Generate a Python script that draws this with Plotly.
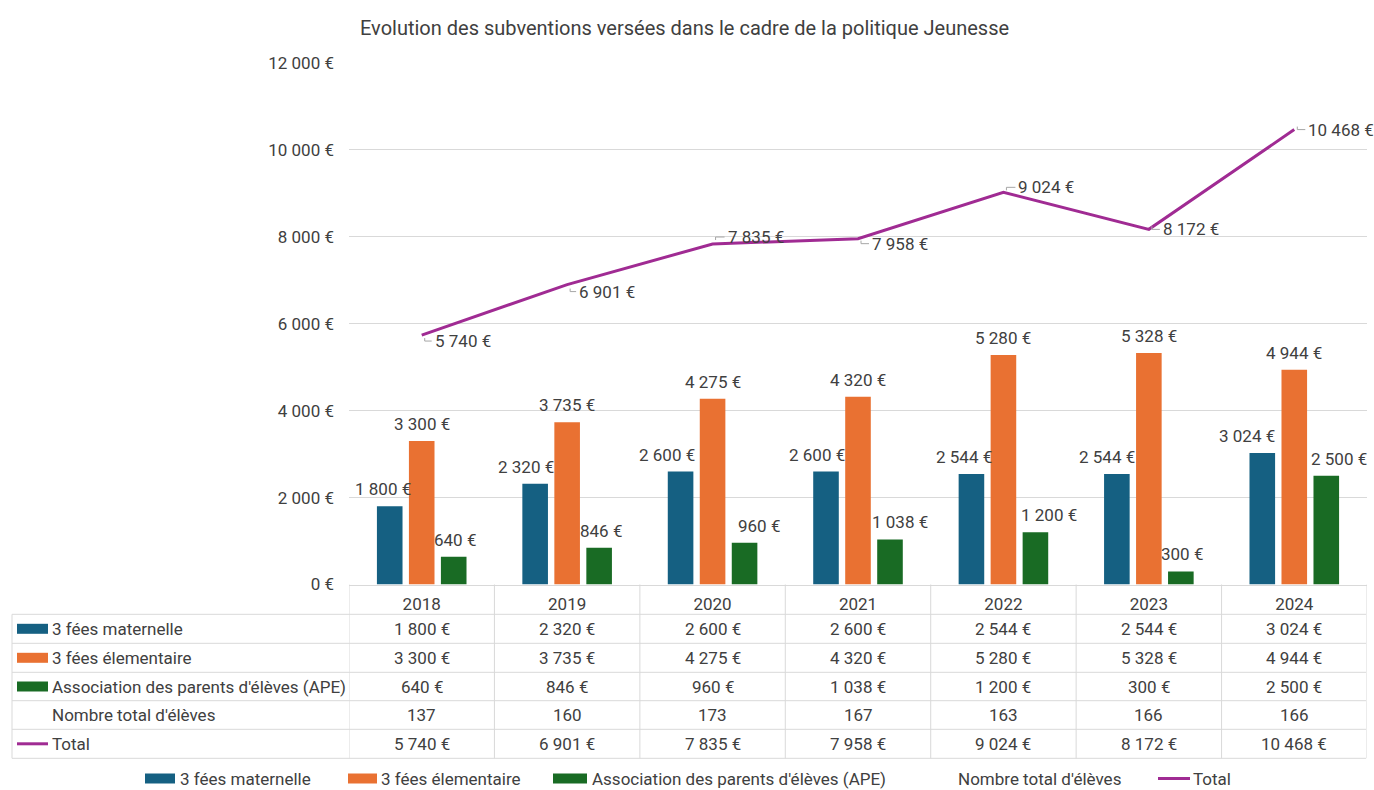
import plotly.graph_objects as go

# ---------------- data ----------------
years = ["2018", "2019", "2020", "2021", "2022", "2023", "2024"]
maternelle = [1800, 2320, 2600, 2600, 2544, 2544, 3024]
elementaire = [3300, 3735, 4275, 4320, 5280, 5328, 4944]
ape = [640, 846, 960, 1038, 1200, 300, 2500]
nb_eleves = [137, 160, 173, 167, 163, 166, 166]
total = [5740, 6901, 7835, 7958, 9024, 8172, 10468]

name_mat = "3 fées maternelle"
name_elem = "3 fées élementaire"
name_ape = "Association des parents d'élèves (APE)"
name_nb = "Nombre total d'élèves"
name_total = "Total"
title_text = "Evolution des subventions versées dans le cadre de la politique Jeunesse"
y_ticks = [0, 2000, 4000, 6000, 8000, 10000, 12000]

# ---------------- styles ----------------
W, H = 1374, 790
FONT = "Roboto, 'Liberation Sans', Arial, sans-serif"
TXT = "#404040"
GRID = "#d9d9d9"
C_MAT, C_ELEM, C_APE, C_TOT = "#156082", "#E97132", "#196B24", "#A02B93"
FS = 17

# label nudges (pixels) reproducing Excel's collision avoidance
nudge_mat = [-7, -9, -14, -9, -7, -10, -15]
nudge_ape = [1, 2, 14, 10, 14, 1, 13]
tot_dx = [12, 11, 14, 13, 14, 13, 13]
tot_dy = [-6, -7, 7, -5, 5, 0, 0]


def euro(v):
    return f"{v:,}".replace(",", " ") + " €"


def pyp(px):  # pixel row -> paper y
    return (H - px) / H


def pxp(px):  # pixel column -> paper x
    return px / W


X0, X1 = 349, 1367
Y0, Y1 = 584.5, 63

fig = go.Figure()
fig.add_bar(x=years, y=maternelle, name=name_mat, marker_color=C_MAT)
fig.add_bar(x=years, y=elementaire, name=name_elem, marker_color=C_ELEM)
fig.add_bar(x=years, y=ape, name=name_ape, marker_color=C_APE)
fig.add_scatter(x=years, y=total, name=name_total, mode="lines",
                line=dict(color=C_TOT, width=3))

ann = []
shapes = []


def text_ann(**kw):
    d = dict(showarrow=False, yanchor="middle", borderpad=0, font=dict(size=FS, color=TXT))
    d.update(kw)
    ann.append(d)


# bar data labels
slot = (X1 - X0) / 7 * (1 - 0.34) / 3
for i in range(len(years)):
    for vals, off, nud in ((maternelle, -slot, nudge_mat[i]),
                           (elementaire, 0, 0),
                           (ape, slot, nudge_ape[i])):
        text_ann(x=i, y=vals[i], xref="x", yref="y", text=euro(vals[i]),
                 xshift=off + nud, yshift=17)
    # total line labels
    text_ann(x=i, y=total[i], xref="x", yref="y", text=euro(total[i]),
             xanchor="left", xshift=tot_dx[i], yshift=tot_dy[i])
    v0 = tot_dy[i] - 3 if tot_dy[i] > 0 else tot_dy[i] + 3
    shapes.append(dict(type="path", xref="x", yref="y", xsizemode="pixel", ysizemode="pixel",
                       xanchor=i, yanchor=total[i],
                       path=f"M 3 {v0} L 3 {tot_dy[i]} L {tot_dx[i] - 2} {tot_dy[i]}",
                       line=dict(color="#a6a6a6", width=1)))

# ---------------- data table ----------------
row_lines = [614.3, 643.3, 672.3, 700.7, 729.3, 758.3]
T_LEFT, T_RIGHT = 12, 1366
for r in row_lines:
    shapes.append(dict(type="line", xref="paper", yref="paper", x0=pxp(T_LEFT), x1=pxp(T_RIGHT),
                       y0=pyp(r), y1=pyp(r), line=dict(color=GRID, width=1)))
shapes.append(dict(type="line", xref="paper", yref="paper", x0=pxp(T_LEFT), x1=pxp(T_LEFT),
                   y0=pyp(614.3), y1=pyp(758.3), line=dict(color=GRID, width=1)))
for k in range(8):
    shapes.append(dict(type="line", xref="x", yref="paper", x0=k - 0.5, x1=k - 0.5,
                       y0=pyp(Y0), y1=pyp(758.3), line=dict(color=GRID, width=1)))

rows = [(name_mat, maternelle, "rect", C_MAT, True),
        (name_elem, elementaire, "rect", C_ELEM, True),
        (name_ape, ape, "rect", C_APE, True),
        (name_nb, nb_eleves, None, None, False),
        (name_total, total, "line", C_TOT, True)]
for j, (nm, vals, sym, col, is_euro) in enumerate(rows):
    yc = (row_lines[j] + row_lines[j + 1]) / 2
    text_ann(x=pxp(51), y=pyp(yc), xref="paper", yref="paper", text=nm, xanchor="left")
    if sym == "rect":
        shapes.append(dict(type="rect", xref="paper", yref="paper", x0=pxp(17), x1=pxp(48),
                           y0=pyp(yc + 5), y1=pyp(yc - 5), fillcolor=col, line=dict(width=0)))
    elif sym == "line":
        shapes.append(dict(type="line", xref="paper", yref="paper", x0=pxp(17), x1=pxp(48),
                           y0=pyp(yc), y1=pyp(yc), line=dict(color=col, width=3)))
    for i in range(len(years)):
        text_ann(x=i, y=pyp(yc), xref="x", yref="paper",
                 text=euro(vals[i]) if is_euro else str(vals[i]))

# ---------------- bottom legend ----------------
LY = 778.5
leg = [(name_mat, "rect", C_MAT, 145, 175, 179),
       (name_elem, "rect", C_ELEM, 348, 377, 380),
       (name_ape, "rect", C_APE, 553, 587, 591),
       (name_nb, None, None, 0, 0, 957),
       (name_total, "line", C_TOT, 1158, 1190, 1192)]
for nm, sym, col, a, b, t in leg:
    if sym == "rect":
        shapes.append(dict(type="rect", xref="paper", yref="paper", x0=pxp(a), x1=pxp(b),
                           y0=pyp(LY + 5), y1=pyp(LY - 5), fillcolor=col, line=dict(width=0)))
    elif sym == "line":
        shapes.append(dict(type="line", xref="paper", yref="paper", x0=pxp(a), x1=pxp(b),
                           y0=pyp(LY), y1=pyp(LY), line=dict(color=col, width=3)))
    text_ann(x=pxp(t), y=pyp(LY), xref="paper", yref="paper", text=nm, xanchor="left")

# title
text_ann(x=pxp(684.5), y=pyp(28), xref="paper", yref="paper", text=title_text,
         font=dict(size=20, color=TXT))

fig.update_layout(
    template="none",
    width=W, height=H, autosize=False,
    margin=dict(l=0, r=0, t=0, b=0, pad=0, autoexpand=False),
    paper_bgcolor="white", plot_bgcolor="white",
    font=dict(family=FONT, size=FS, color=TXT),
    showlegend=False,
    barmode="group", bargap=0.34, bargroupgap=0.2,
    annotations=ann, shapes=shapes,
    xaxis=dict(domain=[pxp(X0), pxp(X1)], type="category", range=[-0.5, 6.5],
               automargin=False, showgrid=False, showline=True, linecolor=GRID, linewidth=1,
               ticks="", ticklabelstandoff=4, tickfont=dict(size=FS, color=TXT)),
    yaxis=dict(domain=[pyp(Y0), pyp(Y1)], range=[0, 12000], tickvals=y_ticks,
               ticktext=[euro(v) for v in y_ticks], automargin=False,
               showgrid=True, gridcolor=GRID, gridwidth=1, zeroline=False,
               showline=False, ticks="", ticklabelstandoff=14,
               tickfont=dict(size=FS, color=TXT)),
)

fig.write_html("out.html", config={"displayModeBar": False},
               post_script="document.body.style.margin='0';document.body.style.overflow='hidden';")
